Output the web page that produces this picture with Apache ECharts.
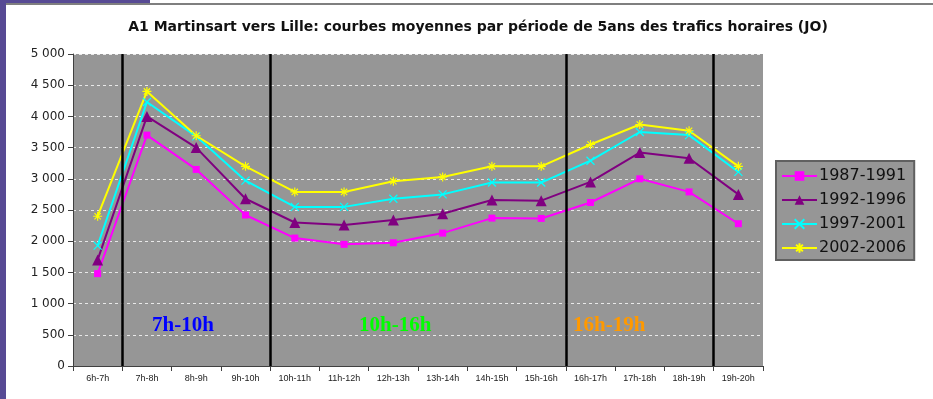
<!DOCTYPE html>
<html>
<head>
<meta charset="utf-8">
<script src="https://cdn.jsdelivr.net/npm/echarts@6/dist/echarts.min.js"></script>
<style>
  html, body { margin: 0; padding: 0; background: #ffffff; }
  #chart { width: 933px; height: 399px; }
</style>
</head>
<body>
<div id="chart"></div>
<script>
// Hourly slots (working days)
var hours = ['6h-7h', '7h-8h', '8h-9h', '9h-10h', '10h-11h', '11h-12h', '12h-13h',
             '13h-14h', '14h-15h', '15h-16h', '16h-17h', '17h-18h', '18h-19h', '19h-20h'];

// Mean hourly traffic per 5-year period
var p1987_1991 = [1480, 3700, 3150, 2420, 2050, 1950, 1975, 2130, 2370, 2365, 2620, 3000, 2790, 2280];
var p1992_1996 = [1700, 4000, 3500, 2680, 2300, 2260, 2340, 2440, 2660, 2650, 2950, 3420, 3330, 2750];
var p1997_2001 = [1930, 4230, 3680, 2970, 2550, 2550, 2680, 2750, 2940, 2940, 3290, 3750, 3700, 3110];
var p2002_2006 = [2400, 4400, 3690, 3200, 2790, 2790, 2960, 3030, 3200, 3200, 3550, 3870, 3770, 3200];

var periodNames = ['1987-1991', '1992-1996', '1997-2001', '2002-2006'];

// Period boundaries, counted in hourly slots from 6h
var periodBounds = [1, 4, 10, 13];

// Y axis ticks
var yMin = 0, yMax = 5000, yStep = 500;

var chart = echarts.init(document.getElementById('chart'));

function fmtThousands(v) {
  return String(v).replace(/\B(?=(\d{3})+(?!\d))/g, ' ');
}

var xMark = 'path://M0,0L10,10M10,0L0,10';
var starMark = 'path://M0,5L10,5M5,0L5,10M1.5,1.5L8.5,8.5M8.5,1.5L1.5,8.5';

function lineSeries(name, data, color, symbol, size, stroked) {
  return {
    name: name,
    type: 'line',
    data: data,
    symbol: symbol,
    symbolSize: size,
    showAllSymbol: true,
    lineStyle: { color: color, width: 2 },
    itemStyle: stroked
      ? { color: color, borderColor: color, borderWidth: 1.2 }
      : { color: color },
    emphasis: { disabled: true },
    z: 3
  };
}

var option = {
  animation: false,
  backgroundColor: '#ffffff',
  textStyle: { fontFamily: 'Liberation Sans, Arial, sans-serif' },
  title: {
    text: 'A1 Martinsart vers Lille: courbes moyennes par période de 5ans des trafics horaires (JO)',
    left: 473,
    top: 15,
    textAlign: 'center',
    textStyle: { fontSize: 14, fontWeight: 'bold', color: '#111111', fontFamily: 'DejaVu Sans' }
  },
  legend: {
    orient: 'vertical',
    left: 776,
    top: 161,
    width: 138,
    backgroundColor: '#969696',
    borderColor: '#606060',
    borderWidth: 2,
    padding: [7, 8, 4, 5],
    itemWidth: 35,
    itemHeight: 12,
    itemGap: 8,
    selectedMode: false,
    textStyle: { fontSize: 16, color: '#111111', fontFamily: 'DejaVu Sans', padding: [0, 0, 0, -3] },
    data: periodNames
  },
  grid: { left: 73, right: 170, top: 54, bottom: 33, show: true, backgroundColor: '#969696', borderWidth: 0 },
  xAxis: [{
    type: 'category',
    data: hours,
    boundaryGap: true,
    axisLine: { lineStyle: { color: '#404040', width: 1 } },
    axisTick: { show: true, length: 5, lineStyle: { color: '#404040' } },
    axisLabel: { fontSize: 9, color: '#222222', margin: 8, interval: 0 },
    splitLine: { show: false }
  }, {
    type: 'value',
    min: 0,
    max: hours.length,
    show: false
  }],
  yAxis: {
    type: 'value',
    min: yMin,
    max: yMax,
    interval: yStep,
    axisLine: { show: true, lineStyle: { color: '#404040', width: 1 } },
    axisTick: { show: true, length: 5, lineStyle: { color: '#404040' } },
    axisLabel: { fontSize: 12, color: '#222222', margin: 8, fontFamily: 'DejaVu Sans', formatter: fmtThousands },
    splitLine: { show: true, lineStyle: { color: '#e8e8e8', width: 1, type: [3, 3] } }
  },
  series: [
    lineSeries(periodNames[0], p1987_1991, '#ff00ff', 'rect', 7, false),
    lineSeries(periodNames[1], p1992_1996, '#800080', 'triangle', 11, false),
    lineSeries(periodNames[2], p1997_2001, '#00ffff', xMark, 8, true),
    lineSeries(periodNames[3], p2002_2006, '#ffff00', starMark, 9, true),
    {
      // Black separators between the traffic periods
      name: 'periods',
      type: 'line',
      xAxisIndex: 1,
      data: [],
      silent: true,
      markLine: {
        silent: true,
        symbol: 'none',
        label: { show: false },
        lineStyle: { color: '#000000', width: 2.5, type: 'solid' },
        data: periodBounds.map(function (b) { return { xAxis: b }; })
      },
      z: 2
    }
  ],
  graphic: [
    // page frame
    { type: 'rect', left: 0, top: 0, shape: { width: 6, height: 399 }, style: { fill: '#574a94' }, silent: true },
    { type: 'rect', left: 0, top: 0, shape: { width: 150, height: 3 }, style: { fill: '#574a94' }, silent: true },
    { type: 'rect', left: 6, top: 3, shape: { width: 927, height: 2 }, style: { fill: '#7f7f7f' }, silent: true },
    // period captions
    { type: 'text', left: 152, top: 315, style: { text: '7h-10h', fill: '#0000ff', font: 'bold 21px "Liberation Serif", serif' }, z: 10 },
    { type: 'text', left: 359, top: 315, style: { text: '10h-16h', fill: '#00ff00', font: 'bold 21px "Liberation Serif", serif' }, z: 10 },
    { type: 'text', left: 573, top: 315, style: { text: '16h-19h', fill: '#ff9900', font: 'bold 21px "Liberation Serif", serif' }, z: 10 }
  ]
};

chart.setOption(option);
</script>
</body>
</html>
